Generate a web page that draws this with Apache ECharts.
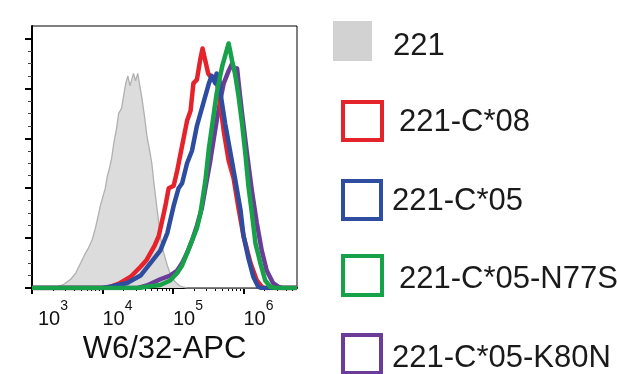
<!DOCTYPE html>
<html>
<head>
<meta charset="utf-8">
<script src="https://cdn.jsdelivr.net/npm/echarts@6/dist/echarts.min.js"></script>
<style>
html, body { margin: 0; padding: 0; background: #fff; }
#box1 { width: 617px; height: 374px; }
</style>
</head>
<body>
<div id="box1"></div>
<script>
// x = log10(W6/32-APC intensity), y = % of max
var names = ['221', '221-C*08', '221-C*05', '221-C*05-N77S', '221-C*05-K80N'];
var decades = [3, 4, 5, 6];

var cells221 = [
  [3.00, 0], [3.30, 0], [3.36, 0.5], [3.45, 1.5], [3.55, 3.5], [3.62, 6], [3.69, 10], [3.75, 13.5],
  [3.80, 16], [3.85, 19], [3.90, 24], [3.94, 29], [3.97, 33], [4.00, 36], [4.04, 40], [4.07, 45],
  [4.10, 48], [4.13, 52], [4.16, 58], [4.20, 64], [4.23, 70], [4.27, 72], [4.30, 77], [4.33, 82],
  [4.36, 85], [4.39, 81], [4.42, 84], [4.44, 86], [4.47, 83], [4.50, 86], [4.53, 81], [4.56, 76],
  [4.60, 68], [4.63, 61], [4.67, 55], [4.70, 50], [4.73, 42], [4.76, 35], [4.79, 28], [4.82, 21],
  [4.86, 15], [4.92, 9], [4.97, 5], [5.03, 2.5], [5.09, 1], [5.15, 0.3], [5.20, 0], [6.76, 0]
];
var c08 = [
  [3.00, 0], [4.00, 0], [4.11, 0.5], [4.25, 2], [4.40, 4.5], [4.54, 8.5], [4.62, 11], [4.68, 14],
  [4.74, 17], [4.80, 21], [4.87, 30], [4.90, 34], [4.94, 40], [5.01, 41], [5.06, 47], [5.13, 57],
  [5.20, 67], [5.25, 71], [5.29, 82], [5.34, 83.5], [5.39, 92], [5.42, 96], [5.46, 91], [5.50, 86],
  [5.55, 84], [5.61, 85], [5.67, 74], [5.72, 63], [5.79, 51], [5.86, 44], [5.93, 32], [6.00, 21],
  [6.10, 10], [6.19, 3], [6.26, 0.5], [6.30, 0], [6.76, 0]
];
var c05 = [
  [3.00, 0], [4.00, 0], [4.11, 0.5], [4.35, 2], [4.54, 5], [4.68, 10], [4.82, 15], [4.92, 22],
  [5.01, 33], [5.08, 40], [5.13, 42], [5.20, 50], [5.27, 55], [5.34, 65], [5.39, 70], [5.46, 77],
  [5.51, 82], [5.55, 85], [5.60, 82], [5.62, 86], [5.66, 83], [5.68, 77], [5.74, 66], [5.81, 55],
  [5.88, 44], [5.96, 31], [6.00, 21], [6.07, 12], [6.14, 4.5], [6.21, 0.5], [6.25, 0], [6.76, 0]
];
var n77s = [
  [3.00, 0], [4.50, 0], [4.63, 0.5], [4.82, 1.2], [4.96, 3], [5.06, 6], [5.13, 9], [5.20, 14],
  [5.27, 19], [5.34, 24], [5.39, 30], [5.46, 43], [5.51, 56], [5.58, 70], [5.62, 78], [5.67, 85],
  [5.70, 89], [5.74, 93], [5.79, 98], [5.84, 91], [5.88, 86], [5.93, 77], [5.98, 66], [6.03, 53],
  [6.07, 41], [6.12, 30], [6.17, 18], [6.24, 10], [6.31, 3], [6.38, 0.5], [6.45, 0], [6.76, 0]
];
var k80n = [
  [3.00, 0], [4.50, 0], [4.63, 1], [4.82, 3.5], [4.96, 5], [5.06, 7], [5.13, 10], [5.20, 14],
  [5.27, 19], [5.34, 25], [5.41, 32], [5.46, 40], [5.53, 51], [5.58, 60], [5.62, 67], [5.67, 75],
  [5.72, 82], [5.79, 87], [5.84, 90], [5.88, 87], [5.91, 88], [5.94, 80], [5.98, 70], [6.05, 54],
  [6.12, 39], [6.19, 26], [6.26, 15], [6.33, 7], [6.42, 2], [6.50, 0.5], [6.55, 0], [6.76, 0]
];

var myChart = echarts.init(document.getElementById('box1'));
var font = 'Liberation Sans, Arial, sans-serif';

// minor ticks at 2..9 x 10^n
var minorX = [];
decades.forEach(function(d) {
  for (var k = 2; k <= 9; k++) {
    var v = d + Math.log10(k);
    if (v < 6.76) minorX.push(v);
  }
});
var majorY = [0, 20, 40, 60, 80, 100];
var minorY = [];
for (var i = 5; i < 100; i += 5) {
  if (i % 20) minorY.push(i);
}

function lineSeries(name, data, color) {
  return {
    name: name,
    type: 'line',
    data: data,
    showSymbol: false,
    silent: true,
    itemStyle: { color: color },
    lineStyle: { color: color, width: 4.5, join: 'round' }
  };
}

// legend boxes (dy pushes the text a little lower than the box centre)
var legendBox = [
  { left: 333, top: 21, w: 39, h: 40, gap: 16, dy: 5, fill: '#d2d2d2', border: null },
  { left: 341, top: 100, w: 39, h: 38, gap: 12, dy: 1, fill: '#fff', border: '#e5232b' },
  { left: 341, top: 179, w: 38, h: 38, gap: 6, dy: 1, fill: '#fff', border: '#2f4da0' },
  { left: 341, top: 254, w: 39, h: 39, gap: 12, dy: 4, fill: '#fff', border: '#17a24a' },
  { left: 341, top: 333, w: 38, h: 38, gap: 6, dy: 4, fill: '#fff', border: '#6b3d98' }
];
var legends = legendBox.map(function(b, i) {
  return {
    left: b.left,
    top: b.top,
    padding: 0,
    itemWidth: b.w,
    itemHeight: b.h,
    selectedMode: false,
    data: [{
      name: names[i],
      icon: 'rect',
      itemStyle: {
        color: b.fill,
        borderColor: b.border || b.fill,
        borderWidth: b.border ? 4 : 0
      }
    }],
    formatter: function(name) {
      return '{t|' + name + '}';
    },
    textStyle: {
      rich: {
        t: {
          fontFamily: font,
          fontSize: 31,
          color: '#1a1a1a',
          padding: [b.dy * 2, 0, 0, b.gap]
        }
      }
    }
  };
});

option = {
  backgroundColor: '#fff',
  animation: false,
  legend: legends,
  grid: {
    left: 32,
    right: 320,
    top: 26,
    bottom: 86,
    show: true,
    borderColor: '#000',
    borderWidth: 1
  },
  xAxis: [{
    type: 'value',
    min: 3,
    max: 6.76,
    position: 'bottom',
    splitLine: { show: false },
    axisLine: { show: true, onZero: false, lineStyle: { color: '#000', width: 2 } },
    axisTick: { show: true, customValues: decades, length: 6, lineStyle: { color: '#000', width: 2 } },
    axisLabel: {
      customValues: decades,
      align: 'left',
      margin: 11,
      formatter: function(v) {
        var n = Math.round(v);
        return (n === 3 ? '{p|}' : '') + '{b|10}{s|' + n + '}';
      },
      rich: {
        p: { width: 6 },
        b: { fontFamily: font, fontSize: 20, color: '#111', padding: [10, 0, 0, 0] },
        s: { fontFamily: font, fontSize: 14, color: '#111', verticalAlign: 'top' }
      }
    },
    name: 'W6/32-APC',
    nameLocation: 'middle',
    nameGap: 46,
    nameTextStyle: { fontFamily: font, fontSize: 31, color: '#111' }
  }, {
    type: 'value',
    min: 3,
    max: 6.76,
    position: 'bottom',
    splitLine: { show: false },
    axisLine: { show: false },
    axisTick: { show: true, customValues: minorX, length: 3, lineStyle: { color: '#000', width: 1 } },
    axisLabel: { show: false }
  }],
  yAxis: [{
    type: 'value',
    min: 0,
    max: 105,
    position: 'left',
    splitLine: { show: false },
    axisLine: { show: true, onZero: false, lineStyle: { color: '#000', width: 2 } },
    axisTick: { show: true, customValues: majorY, length: 7, lineStyle: { color: '#000', width: 2 } },
    axisLabel: { show: false }
  }, {
    type: 'value',
    min: 0,
    max: 105,
    position: 'left',
    splitLine: { show: false },
    axisLine: { show: false },
    axisTick: { show: true, customValues: minorY, length: 4, lineStyle: { color: '#444', width: 1 } },
    axisLabel: { show: false }
  }],
  series: [
    {
      name: names[0],
      type: 'line',
      data: cells221,
      showSymbol: false,
      silent: true,
      itemStyle: { color: '#d2d2d2' },
      lineStyle: { color: '#b0b0b0', width: 1.3 },
      areaStyle: { color: '#dcdcdc', opacity: 1 }
    },
    lineSeries(names[4], k80n, '#6b3d98'),
    lineSeries(names[1], c08, '#e5232b'),
    lineSeries(names[2], c05, '#2f4da0'),
    lineSeries(names[3], n77s, '#17a24a')
  ]
};
myChart.setOption(option);
</script>
</body>
</html>
